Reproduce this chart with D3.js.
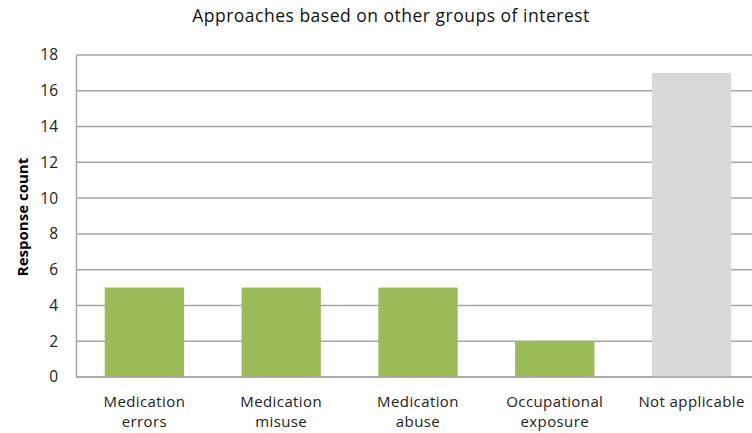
<!DOCTYPE html>
<html><head><meta charset="utf-8">
<script src="https://cdn.jsdelivr.net/npm/d3@7"></script>
<style>body{margin:0;background:#fff}svg{display:block}</style>
</head><body>
<svg id="c" width="752" height="433"></svg>
<script>
const categories = [["Medication","errors"],["Medication","misuse"],["Medication","abuse"],["Occupational","exposure"],["Not applicable"]];
const values = [5,5,5,2,17];
const barColors = ["#9bbb59","#9bbb59","#9bbb59","#9bbb59","#d9d9d9"];
const yTicks = [0,2,4,6,8,10,12,14,16,18];
const title = "Approaches based on other groups of interest";
const yLabel = "Response count";

const svg = d3.select("#c");
const font = "'Open Sans', sans-serif";
const x = d3.scaleBand().domain(d3.range(values.length)).range([76,760]).paddingInner(0.42).paddingOuter(0.21);
const y = d3.scaleLinear().domain([0,18]).range([377,55]);

// gridlines
svg.append("g").selectAll("line").data(yTicks).join("line")
  .attr("x1",76).attr("x2",760).attr("y1",d=>y(d)).attr("y2",d=>y(d))
  .attr("stroke","#a6a6a6").attr("stroke-width",1.5);

// bars
svg.append("g").selectAll("rect").data(values).join("rect")
  .attr("x",(d,i)=>x(i)).attr("width",x.bandwidth())
  .attr("y",d=>y(d)).attr("height",d=>y(0)-y(d))
  .attr("fill",(d,i)=>barColors[i]);

// y axis
const ya = svg.append("g").attr("transform","translate(76,0)")
  .call(d3.axisLeft(y).tickValues(yTicks).tickSize(0).tickPadding(18));
ya.select(".domain").attr("stroke","#a6a6a6").attr("stroke-width",1.5);
ya.selectAll("text").attr("font-family",font).attr("font-size",15.5).attr("fill","#222");

// x axis line
svg.append("line").attr("x1",76).attr("x2",760).attr("y1",y(0)).attr("y2",y(0))
  .attr("stroke","#a6a6a6").attr("stroke-width",1.5);

// x labels
const xl = svg.append("g").selectAll("text").data(categories).join("text")
  .attr("x",(d,i)=>x(i)+x.bandwidth()/2).attr("y",407)
  .attr("text-anchor","middle").attr("font-family",font).attr("font-size",15)
  .attr("letter-spacing",0.4).attr("fill","#222");
xl.each(function(d){
  const t=d3.select(this);
  d.forEach((s,k)=>t.append("tspan").attr("x",t.attr("x")).attr("dy",k?20:0).text(s));
});

// title
svg.append("text").attr("x",391).attr("y",22).attr("text-anchor","middle")
  .attr("font-family",font).attr("font-size",17.5).attr("letter-spacing",0.5).attr("fill","#111").text(title);

// y label
svg.append("text").attr("transform","translate(28,217) rotate(-90)").attr("text-anchor","middle")
  .attr("font-family",font).attr("font-size",15).attr("font-weight","bold").attr("fill","#000").text(yLabel);
</script>
</body></html>
